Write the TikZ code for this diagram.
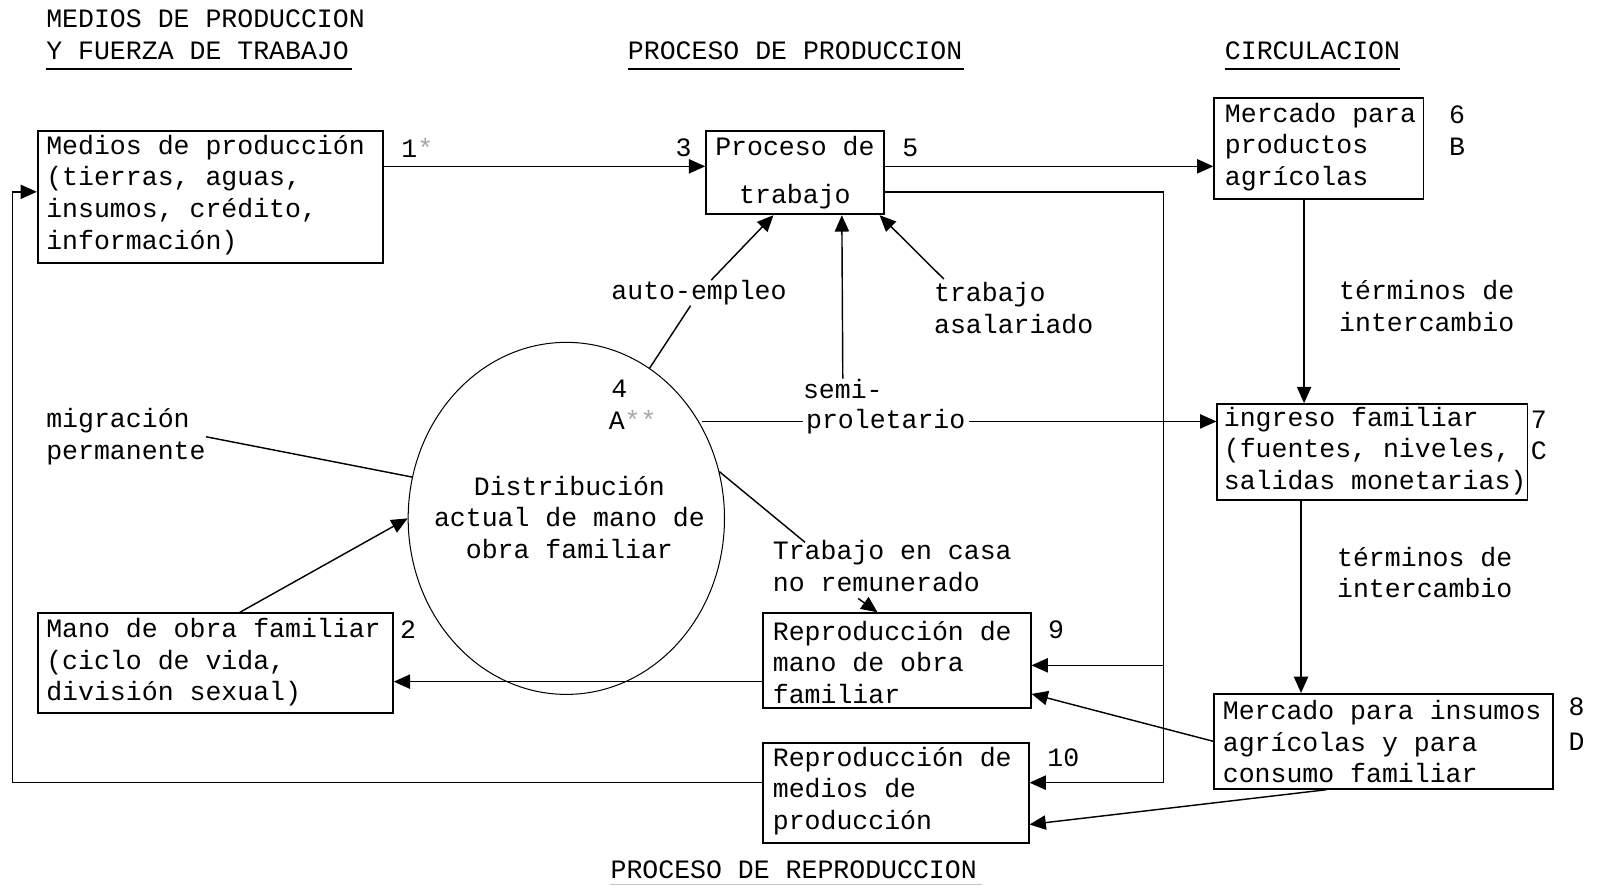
\documentclass[tikz,border=0pt]{standalone}
\usepackage{fontspec}
\setmainfont{Liberation Mono}
\usetikzlibrary{arrows.meta,shapes.geometric,calc}
\begin{document}
\begin{tikzpicture}[x=0.5pt,y=-0.5pt,
  every node/.style={font=\fontsize{13}{15.5}\selectfont, inner sep=0pt},
  box/.style={draw, line width=0.9pt, rectangle, inner sep=0pt},
  txt/.style={align=left, anchor=west},
  lab/.style={anchor=west},
  conn/.style={line width=0.7pt, -{Triangle[length=8pt,width=7pt]}},
  link/.style={line width=0.7pt},
  uline/.style={line width=1pt}]
\useasboundingbox (0,0) rectangle (1568,868);

% headers
\node[lab] (h1a) at (45,18) {MEDIOS DE PRODUCCION};
\node[lab] (h1b) at (45,50) {Y FUERZA DE TRABAJO};
\draw[uline] (45,68) -- (345,68);
\node[lab] (h2) at (615,50) {PROCESO DE PRODUCCION};
\draw[uline] (615,68) -- (945,68);
\node[lab] (h3) at (1200,50) {CIRCULACION};
\draw[uline] (1200,68) -- (1372,68);
\node[lab] (h4) at (598,852) {PROCESO DE REPRODUCCION};
\draw[line width=0.4pt, gray!45] (598,867) -- (962,867);

% boxes
\node[box, minimum width=169pt, minimum height=65pt] (b1) at (206,193) {};
\node[txt] (t1) at (45,191) {Medios de producción\\(tierras, aguas,\\insumos, crédito,\\información)};
\node[lab] (n1) at (393,145) {1\textcolor{gray!70}{*}};

\node[box, minimum width=87pt, minimum height=41pt] (proc) at (779,169) {};
\node[align=center] (tproc) at (779,169) {Proceso de\\[8pt]trabajo};
\node (n3) at (670,145) {3};
\node (n5) at (892,145) {5};

\node[box, minimum width=102.5pt, minimum height=49.5pt] (m6) at (1292.5,145.5) {};
\node[txt] (t6) at (1200,144) {Mercado para\\productos\\agrícolas};
\node (n6) at (1428,112) {6};
\node (nB) at (1428,144) {B};

\node[box, minimum width=152pt, minimum height=47pt] (ing7) at (1345,443) {};
\node[txt] (t7) at (1199,442) {ingreso familiar\\(fuentes, niveles,\\salidas monetarias)};
\node (n7) at (1508,411) {7};
\node (nC) at (1508,442) {C};

\node[box, minimum width=166pt, minimum height=46.5pt] (m8) at (1356,726.5) {};
\node[txt] (t8) at (1198,727) {Mercado para insumos\\agrícolas y para\\consumo familiar};
\node (n8) at (1545,693) {8};
\node (nD) at (1545,727) {D};

\node[box, minimum width=131pt, minimum height=46.5pt] (b9) at (879,647.5) {};
\node[txt] (t9) at (757,649) {Reproducción de\\mano de obra\\familiar};
\node (n9) at (1035,617) {9};

\node[box, minimum width=130pt, minimum height=49pt] (b10) at (878,777) {};
\node[txt] (t10) at (757,775) {Reproducción de\\medios de\\producción};
\node (n10) at (1042,743) {10};

\node[box, minimum width=174pt, minimum height=49pt] (b2) at (211,650) {};
\node[txt] (t2) at (45,649) {Mano de obra familiar\\(ciclo de vida,\\división sexual)};
\node (n2) at (400,617) {2};

% central ellipse
\node[draw, ellipse, line width=0.5pt, minimum width=155pt, minimum height=172.5pt] (circ) at (555,508) {};
\node[align=center] (tc) at (558,507) {Distribución\\actual de mano de\\obra familiar};
\node (n4) at (607,381) {4};
\node (nA) at (620,411) {A\textcolor{gray!70}{**}};

% labels
\node (lae) at (685,287) {auto-empleo};
\node (lsemi) at (826,381) {semi-};
\node[inner xsep=1.5pt] (lprol) at (868,413) {proletario};
\node[txt] (ltas) at (915,302) {trabajo\\asalariado};
\node[txt] (lt1) at (1312,300) {términos de\\intercambio};
\node[txt] (lt2) at (1310,561) {términos de\\intercambio};
\node[txt] (lmig) at (45,428) {migración\\permanente};
\node[txt] (ltc) at (757,555) {Trabajo en casa\\no remunerado};

% helper coordinates
\coordinate (L163) at (0,163);
\coordinate (L188) at (0,188);
\coordinate (L668) at (0,668);
\coordinate (L678) at (0,680);
\coordinate (L808) at (0,808);
\coordinate (L767) at (0,767);
\coordinate (jx) at (1140,188);
\coordinate (j9) at (1140,652);
\coordinate (j10) at (1140,767);
\coordinate (lx1) at (12,767);
\coordinate (lx2) at (12,188);
\coordinate (x1278) at (1278,0);
\coordinate (x1275) at (1275,0);
\coordinate (x1300) at (1300,0);
\coordinate (x235) at (235,0);
\coordinate (x758) at (758,0);
\coordinate (x825) at (825,0);
\coordinate (x862) at (862,0);
\coordinate (x860) at (860,0);

% connectors
\draw[conn] (b1.east |- L163) -- (proc.west |- L163);
\draw[conn] (proc.east |- L163) -- (m6.west |- L163);
\draw[link] (proc.east |- jx) -- (jx) -- (j10);
\draw[conn] (j9) -- (b9.east |- j9);
\draw[conn] (j10) -- (b10.east |- j10);
\draw[conn] (x1278 |- m6.south) -- (x1278 |- ing7.north);
\draw[conn] (x1275 |- ing7.south) -- (x1275 |- m8.north);
\draw[conn] (m8.west) -- (b9.east |- L678);
\draw[conn] (x1300 |- m8.south) -- (b10.east |- L808);
\draw[conn] (b9.west |- L668) -- (b2.east |- L668);
\draw[link] (b10.west |- L767) -- (lx1) -- (lx2);
\draw[conn] (lx2) -- (b1.west |- L188);
\draw[conn] (x235 |- b2.north) -- (circ.west);
\draw[link] (circ.61) -- (lae);
\draw[conn] (lae) -- (x758 |- proc.south);
\draw[conn] (lsemi) -- (x825 |- proc.south);
\draw[link] (lprol.west -| circ.34) -- (lprol.west);
\draw[conn] (lprol.east) -- (ing7.west |- lprol.east);
\draw[conn] ([xshift=5pt,yshift=1.5pt]ltas.north west) -- (x862 |- proc.south);
\draw[link] (lmig.east) -- (circ.165);
\draw[link] (circ.17) -- ([xshift=16pt,yshift=-1pt]ltc.north west);
\draw[conn] ([xshift=42pt,yshift=-3pt]ltc.south west) -- (x860 |- b9.north);
\end{tikzpicture}
\end{document}
